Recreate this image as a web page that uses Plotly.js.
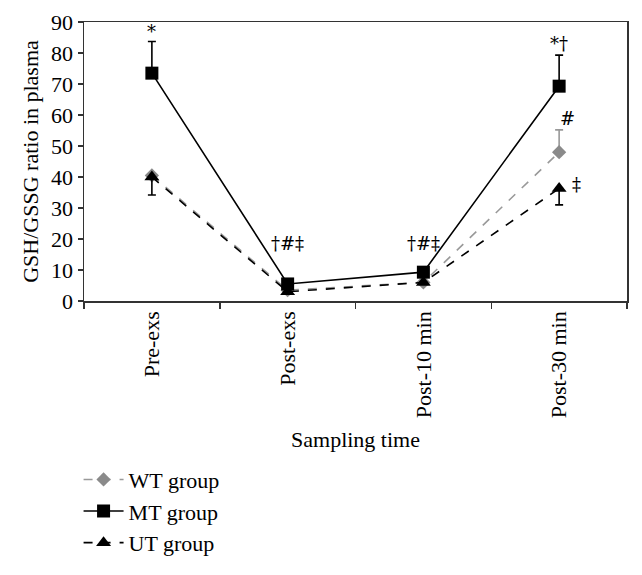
<!DOCTYPE html>
<html>
<head>
<meta charset="utf-8">
<script src="https://cdn.plot.ly/plotly-3.0.1.min.js"></script>
<style>html,body{margin:0;padding:0;background:#fff;}#chart{width:642px;height:575px;}</style>
</head>
<body>
<div id="chart"></div>
<script>
const categories = ["Pre-exs", "Post-exs", "Post-10 min", "Post-30 min"];
const wtValues = [40.5, 3.5, 6.0, 48.0];
const wtErrUp = [0, 0, 0, 7.2];
const mtValues = [73.5, 5.5, 9.3, 69.3];
const mtErrUp = [10.2, 0, 0, 10.0];
const utValues = [40.0, 3.0, 6.0, 36.3];
const utErrDown = [5.8, 0, 0, 5.3];
const annoText = ["*", "†#‡", "†#‡", "*†", "#", "‡"];
const annoCat = ["Pre-exs", "Post-exs", "Post-10 min", "Post-30 min", "Post-30 min", "Post-30 min"];
const annoY = [87, 18.5, 18.5, 83, 59, 37.5];
const annoShift = [0, 0, 0, 0, 8, 17];

const serif = "Liberation Serif, Times New Roman, serif";
const symFont = "DejaVu Serif, Liberation Serif, serif";
const zeros = categories.map(() => 0);

const traces = [
  {
    name: "WT group", x: categories, y: wtValues, type: "scatter", mode: "lines+markers",
    line: {color: "#999999", width: 1.6, dash: "dash"},
    marker: {symbol: "diamond", size: 11, color: "#8a8a8a"},
    error_y: {type: "data", symmetric: false, array: wtErrUp, arrayminus: zeros, color: "#999999", thickness: 1.6, width: 4}
  },
  {
    name: "MT group", x: categories, y: mtValues, type: "scatter", mode: "lines+markers",
    line: {color: "#000000", width: 1.6},
    marker: {symbol: "square", size: 13, color: "#000000"},
    error_y: {type: "data", symmetric: false, array: mtErrUp, arrayminus: zeros, color: "#000000", thickness: 1.6, width: 4}
  },
  {
    name: "UT group", x: categories, y: utValues, type: "scatter", mode: "lines+markers",
    line: {color: "#000000", width: 1.6, dash: "dash"},
    marker: {symbol: "triangle-up", size: 13, color: "#000000"},
    error_y: {type: "data", symmetric: false, array: zeros, arrayminus: utErrDown, color: "#000000", thickness: 1.6, width: 4}
  }
];

const annotations = annoText.map((t, i) => ({
  x: annoCat[i], y: annoY[i], xref: "x", yref: "y", text: t, showarrow: false,
  xshift: annoShift[i], font: {family: symFont, size: 18, color: "#000"}
}));

const layout = {
  width: 642, height: 575,
  margin: {l: 84, r: 15, t: 22, b: 260},
  paper_bgcolor: "#fff", plot_bgcolor: "#fff",
  font: {family: serif, size: 22, color: "#000"},
  showlegend: true,
  legend: {x: -0.01, xanchor: "left", y: -0.565, yanchor: "top", font: {family: serif, size: 22, color: "#000"}, tracegroupgap: 0, itemwidth: 40, bgcolor: "rgba(0,0,0,0)"},
  xaxis: {
    type: "category", range: [-0.5, 3.5], tickson: "boundaries", ticks: "outside", ticklen: 6, tickwidth: 1.5, tickcolor: "#333",
    showline: true, linecolor: "#333", linewidth: 1.5, mirror: true, showgrid: false, zeroline: false,
    tickangle: -90, tickfont: {family: serif, size: 22, color: "#000"},
    title: {text: "Sampling time", font: {family: serif, size: 22, color: "#000"}, standoff: 14},
    automargin: false
  },
  yaxis: {
    range: [0, 90], dtick: 10, ticks: "outside", ticklen: 5, tickwidth: 1.5, tickcolor: "#333",
    showline: true, linecolor: "#333", linewidth: 1.5, mirror: true, showgrid: false, zeroline: false,
    tickfont: {family: serif, size: 22, color: "#000"},
    title: {text: "GSH/GSSG ratio in plasma", font: {family: serif, size: 22, color: "#000"}, standoff: 6},
    automargin: false
  },
  annotations: annotations
};

Plotly.newPlot("chart", traces, layout, {displayModeBar: false, staticPlot: true});
</script>
</body>
</html>
